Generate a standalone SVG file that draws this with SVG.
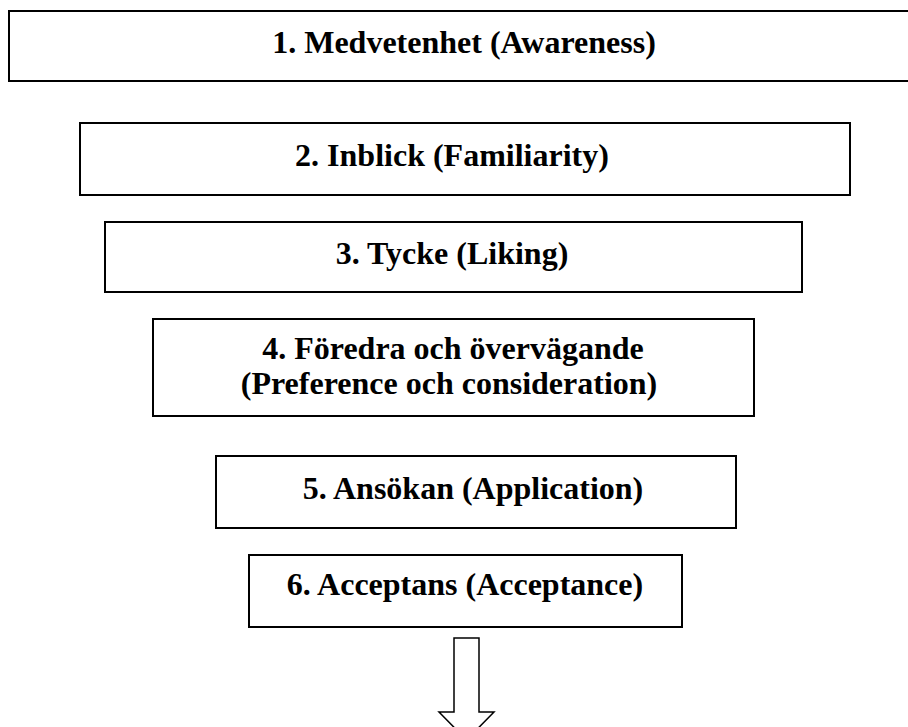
<svg xmlns="http://www.w3.org/2000/svg" width="908" height="727" viewBox="0 0 908 727">
<style>
.box{fill:#fff;stroke:#000;stroke-width:2}
.t{font-family:"Liberation Serif","Times New Roman",serif;font-weight:bold;font-size:32px;fill:#000;text-anchor:middle}
.arr{fill:#fff;stroke:#000;stroke-width:1.5}
</style>
<rect width="908" height="727" fill="#fff"/>
<g id="n1"><rect class="box" x="9" y="11" width="910" height="70"/><text class="t" x="464" y="53">1. Medvetenhet (Awareness)</text></g>
<g id="n2"><rect class="box" x="80" y="123" width="770" height="72"/><text class="t" x="452" y="166">2. Inblick (Familiarity)</text></g>
<g id="n3"><rect class="box" x="105" y="222" width="697" height="70"/><text class="t" x="452" y="264">3. Tycke (Liking)</text></g>
<g id="n4"><rect class="box" x="153" y="319" width="601" height="97"/><text class="t" x="453" y="359">4. Föredra och övervägande</text><text class="t" x="449" y="394">(Preference och consideration)</text></g>
<g id="n5"><rect class="box" x="216" y="456" width="520" height="72"/><text class="t" x="473" y="499">5. Ansökan (Application)</text></g>
<g id="n6"><rect class="box" x="249" y="555" width="433" height="72"/><text class="t" x="465" y="595">6. Acceptans (Acceptance)</text></g>
<g id="connectors"><path class="arr" d="M454,638 L479,638 L479,712 L494,712 L466.5,740 L439,712 L454,712 Z"/></g>
</svg>
